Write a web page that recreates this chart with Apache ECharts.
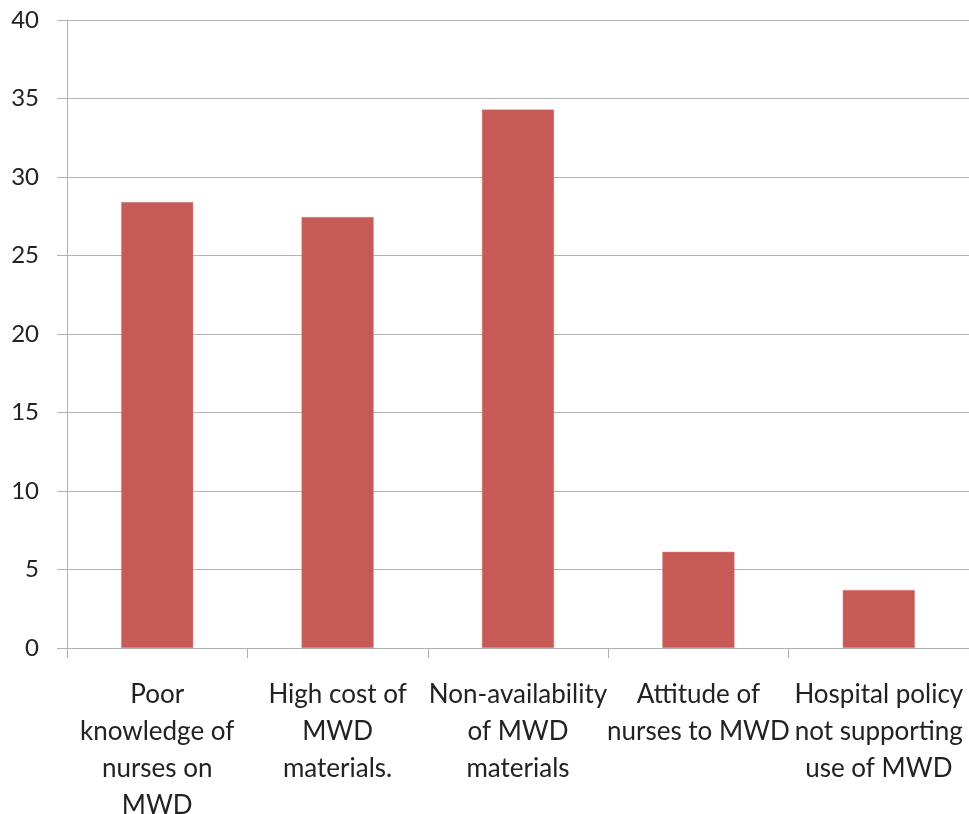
<!DOCTYPE html>
<html>
<head>
<meta charset="utf-8">
<script src="https://cdn.jsdelivr.net/npm/echarts@6/dist/echarts.min.js"></script>
<style>html,body{margin:0;padding:0;background:#fff;overflow:hidden}#c{width:969px;height:814px}</style>
</head>
<body>
<div id="c"></div>
<script>
var categories = [
  "Poor\nknowledge of\nnurses on\nMWD",
  "High cost of\nMWD\nmaterials.",
  "Non-availability\nof MWD\nmaterials",
  "Attitude of\nnurses to MWD",
  "Hospital policy\nnot supporting\nuse of MWD"
];
var values = [28.4, 27.45, 34.3, 6.13, 3.7];
var yTicks = { min: 0, max: 40, interval: 5 };

var chart = echarts.init(document.getElementById('c'), null, { renderer: 'canvas', width: 969, height: 814 });
chart.setOption({
  animation: false,
  backgroundColor: '#ffffff',
  grid: { left: 67, right: 0, top: 20, bottom: 166, containLabel: false, outerBoundsMode: 'none' },
  xAxis: {
    type: 'category',
    data: categories,
    axisLine: { show: true, lineStyle: { color: '#b0b0b0', width: 1 } },
    axisTick: { show: true, length: 10, lineStyle: { color: '#b0b0b0' } },
    axisLabel: {
      interval: 0, margin: 28, color: '#222', fontSize: 26,
      fontFamily: 'Lato, "Open Sans", sans-serif', lineHeight: 37, align: 'center'
    },
    splitLine: { show: false }
  },
  yAxis: {
    type: 'value',
    min: yTicks.min, max: yTicks.max, interval: yTicks.interval,
    axisLine: { show: true, lineStyle: { color: '#b0b0b0', width: 1 } },
    axisTick: { show: true, length: 10, lineStyle: { color: '#b0b0b0' } },
    axisLabel: { margin: 28, color: '#222', fontSize: 24, fontFamily: 'Lato, "Open Sans", sans-serif' },
    splitLine: { show: true, lineStyle: { color: '#b3b3b3', width: 1 } }
  },
  series: [{
    type: 'bar',
    data: values,
    barCategoryGap: '60%',
    itemStyle: { color: '#c55a56', borderColor: '#d98a87', borderWidth: 0.5 }
  }]
});
</script>
</body>
</html>
